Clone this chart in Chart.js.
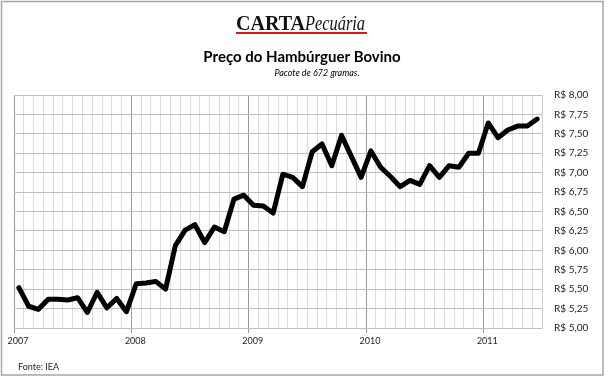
<!DOCTYPE html>
<html>
<head>
<meta charset="utf-8">
<script src="https://cdn.jsdelivr.net/npm/chart.js@4"></script>
<style>
  html, body { margin: 0; padding: 0; background: #fff; }
  #wrap { width: 608px; height: 380px; }
</style>
</head>
<body>
<div id="wrap"><canvas id="chart" width="608" height="380"></canvas></div>
<script>
// monthly price, jan/2007 .. jun/2011
const years = ['2007', '2008', '2009', '2010', '2011'];
const prices = [
  5.52, 5.28, 5.24, 5.37, 5.37, 5.36, 5.39, 5.20, 5.46, 5.26, 5.38, 5.21,
  5.57, 5.58, 5.60, 5.50, 6.06, 6.26, 6.33, 6.10, 6.30, 6.24, 6.66, 6.71,
  6.58, 6.57, 6.48, 6.98, 6.94, 6.82, 7.27, 7.37, 7.09, 7.48, 7.21, 6.94,
  7.28, 7.07, 6.95, 6.82, 6.90, 6.85, 7.09, 6.94, 7.09, 7.07, 7.25, 7.25,
  7.64, 7.45, 7.55, 7.60, 7.60, 7.69
];
const yMin = 5, yMax = 8, yStep = 0.25;
const monthsShown = 54;

const FONT = 'Lato';

const decorations = {
  id: 'decorations',
  beforeDraw(chart) {
    const ctx = chart.ctx;
    ctx.save();
    ctx.fillStyle = '#fff';
    ctx.fillRect(0, 0, chart.width, chart.height);
    ctx.restore();
  },
  afterDraw(chart) {
    const ctx = chart.ctx;
    ctx.save();
    // outer frame
    ctx.strokeStyle = '#a6a6a6';
    ctx.lineWidth = 1.5;
    ctx.strokeRect(1.5, 1.5, 601.5, 373.5);

    // logo
    ctx.fillStyle = '#111';
    ctx.textAlign = 'left';
    ctx.textBaseline = 'alphabetic';
    ctx.font = 'bold 20px "Liberation Serif"';
    ctx.fillText('CARTA', 236, 30);
    const w = ctx.measureText('CARTA').width;
    ctx.save();
    ctx.translate(236 + w, 30);
    ctx.scale(0.82, 1);
    ctx.font = 'italic 20px "Liberation Serif"';
    ctx.fillText('Pecuária', 0, 0);
    ctx.restore();
    ctx.fillStyle = '#d61a1a';
    ctx.fillRect(236, 32, 131, 2);

    // title + subtitle
    ctx.fillStyle = '#000';
    ctx.textAlign = 'center';
    ctx.textBaseline = 'middle';
    ctx.font = `bold 15px ${FONT}`;
    ctx.fillText('Preço do Hambúrguer Bovino', 302, 57);
    ctx.font = `italic 9px ${FONT}`;
    ctx.fillText('Pacote de 672 gramas.', 317, 73);

    // source
    ctx.textAlign = 'left';
    ctx.fillStyle = '#222';
    ctx.font = `9px ${FONT}`;
    ctx.fillText('Fonte: IEA', 18, 367);
    ctx.restore();
  }
};

const points = prices.map((p, i) => ({ x: i + 0.5, y: p }));

new Chart(document.getElementById('chart'), {
  type: 'line',
  data: {
    datasets: [{
      data: points,
      borderColor: '#000',
      borderWidth: 5,
      borderJoinStyle: 'round',
      borderCapStyle: 'round',
      pointRadius: 0,
      tension: 0,
      fill: false
    }]
  },
  options: {
    responsive: false,
    animation: false,
    layout: { padding: { top: 95, left: 14, right: 6, bottom: 12 } },
    plugins: {
      legend: { display: false },
      tooltip: { enabled: false }
    },
    scales: {
      x: {
        type: 'linear',
        min: 0,
        max: monthsShown,
        afterFit: s => { s.height = 40; },
        ticks: {
          stepSize: 1,
          autoSkip: false,
          maxRotation: 0,
          padding: 3,
          labelOffset: 4,
          color: '#222',
          font: { family: FONT, size: 9 },
          callback: v => (v % 12 === 0 ? years[v / 12] || '' : '')
        },
        grid: {
          tickLength: 5,
          lineWidth: 1,
          color: c => (c.tick && c.tick.value % 12 === 0 && c.tick.value < monthsShown ? '#9a9a9a' : '#dcdcdc'),
          tickColor: c => (c.tick && c.tick.value % 12 === 0 ? '#9a9a9a' : 'rgba(0,0,0,0)')
        },
        border: { display: false }
      },
      y: {
        position: 'right',
        min: yMin,
        max: yMax,
        afterFit: s => { s.width = 60; },
        ticks: {
          stepSize: yStep,
          padding: 12,
          color: '#222',
          font: { family: FONT, size: 10 },
          callback: v => 'R$ ' + v.toFixed(2).replace('.', ',')
        },
        grid: { drawTicks: false, color: '#bfbfbf', lineWidth: 1 },
        border: { color: '#d0d0d0' }
      }
    }
  },
  plugins: [decorations]
});
</script>
</body>
</html>
